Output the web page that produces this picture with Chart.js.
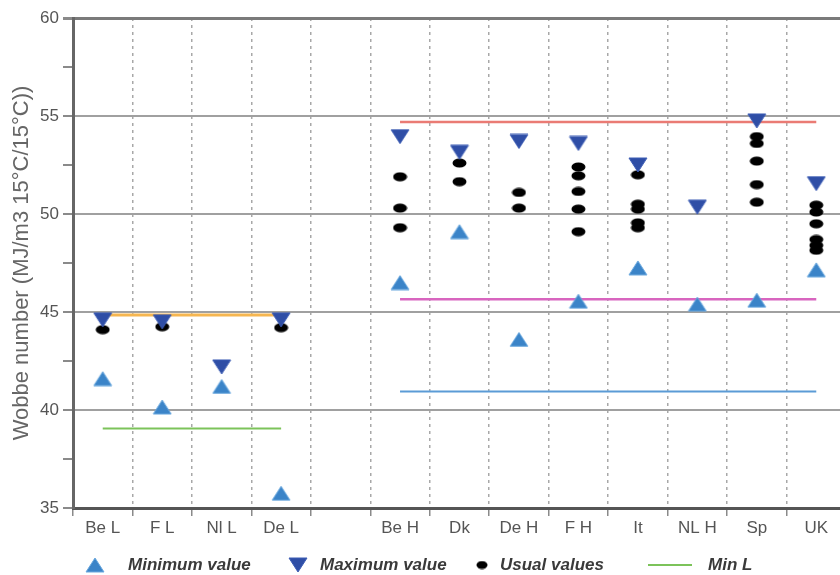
<!DOCTYPE html>
<html>
<head>
<meta charset="utf-8">
<script src="https://cdn.jsdelivr.net/npm/chart.js@4.4.0/dist/chart.umd.min.js"></script>
<style>
  html, body { margin: 0; padding: 0; overflow: hidden; background: #ffffff; }
  #frame { position: relative; width: 840px; height: 575px; overflow: hidden; }
  canvas { display: block; }
</style>
</head>
<body>
<div id="frame"><canvas id="wobbe" width="857" height="575" style="width:857px;height:575px"></canvas></div>
<script>
// Gas zones: L-gas countries, a spacer column, then H-gas countries
const categories = ['Be L', 'F L', 'Nl L', 'De L', '', 'Be H', 'Dk', 'De H', 'F H', 'It', 'NL H', 'Sp', 'UK'];

// Wobbe number extremes per zone (MJ/m3, 15°C/15°C)
const minValues = [41.6, 40.15, 41.2, 35.75, null, 46.5, 49.1, 43.6, 45.55, 47.25, 45.4, 45.6, 47.15];
const maxValues = [44.6, 44.5, 42.2, 44.6, null, 53.95, 53.15, 53.7, 53.6, 52.5, 50.35, 54.75, 51.55];

// Usual values observed in each zone
const usualValues = [
  [44.1],
  [44.25],
  [],
  [44.2],
  [],
  [51.9, 50.3, 49.3],
  [52.6, 51.65],
  [51.1, 50.3],
  [52.4, 51.95, 51.15, 50.25, 49.1],
  [52.0, 50.5, 50.25, 49.55, 49.3],
  [],
  [53.95, 53.6, 52.7, 51.5, 50.6],
  [50.45, 50.1, 49.5, 48.7, 48.4, 48.15]
];

// Range limits drawn as horizontal bands across each group
const lGroupSpan = ['Be L', 'De L'];
const hGroupSpan = ['Be H', 'UK'];
const maxL = 44.85;
const minL = 39.05;
const maxH = 54.7;
const minH = 45.65;
const minHLow = 40.95;

const yMin = 35, yMax = 60, yStep = 2.5, yLabelStep = 5;

const FONT = '"Liberation Sans", Arial, sans-serif';

const COLORS = {
  min: '#3b84c8', minEdge: '#6aa8de',
  max: '#2f4ea6', maxEdge: '#3c5cb4',
  usual: '#000000',
  minL: '#7cc35a',
  maxL: '#f6b650',
  maxH: '#ea7b74',
  minH: '#d865bf',
  minHLow: '#5b9bd6'
};

// Marker images, each centred on its own bounding box
function makeEllipse(w, h) {
  const c = document.createElement('canvas');
  c.width = w; c.height = h;
  const g = c.getContext('2d');
  g.fillStyle = COLORS.usual;
  g.beginPath();
  g.ellipse(w / 2, h / 2, w / 2 - 0.5, h / 2 - 0.5, 0, 0, Math.PI * 2);
  g.fill();
  return c;
}
function makeTriangle(w, h, down, fill, edge) {
  const c = document.createElement('canvas');
  c.width = w; c.height = h;
  const g = c.getContext('2d');
  g.beginPath();
  if (down) {
    g.moveTo(1, 1); g.lineTo(w - 1, 1); g.lineTo(w / 2, h - 1);
  } else {
    g.moveTo(w / 2, 1); g.lineTo(w - 1, h - 1); g.lineTo(1, h - 1);
  }
  g.closePath();
  g.fillStyle = fill;
  g.fill();
  g.lineWidth = 1;
  g.strokeStyle = edge;
  g.stroke();
  return c;
}
const ellipseMarker = makeEllipse(15, 10);
const upMarker = makeTriangle(20, 16, false, COLORS.min, COLORS.minEdge);
const downMarker = makeTriangle(20, 16, true, COLORS.max, COLORS.maxEdge);

const span = (cats, v) => cats.map(c => ({ x: c, y: v }));
const usualPoints = usualValues.flatMap((vals, i) => vals.map(v => ({ x: categories[i], y: v })));

// Key drawn beneath the x axis
const bottomKey = {
  id: 'bottomKey',
  afterDraw(chart) {
    const ctx = chart.ctx;
    const y = 565;
    const ds = chart.data.datasets;
    ctx.save();
    ctx.font = 'italic bold 17px ' + FONT;
    ctx.textBaseline = 'middle';
    ctx.textAlign = 'left';
    ctx.fillStyle = '#3a3a3a';

    ctx.drawImage(upMarker, 85, y - 8);
    ctx.fillText(ds[0].label, 128, y);

    ctx.drawImage(downMarker, 288, y - 8);
    ctx.fillText(ds[1].label, 320, y);

    ctx.drawImage(makeEllipse(12, 9), 476, y - 4.5);
    ctx.fillText(ds[2].label, 500, y);

    ctx.strokeStyle = COLORS.minL;
    ctx.lineWidth = 2;
    ctx.beginPath();
    ctx.moveTo(648, y);
    ctx.lineTo(692, y);
    ctx.stroke();
    ctx.fillText(ds[3].label, 708, y);
    ctx.restore();
  }
};

new Chart(document.getElementById('wobbe'), {
  type: 'line',
  data: {
    labels: categories,
    datasets: [
      {
        label: 'Minimum value',
        data: minValues,
        showLine: false,
        pointStyle: upMarker,
        pointRadius: 10,
        order: 0
      },
      {
        label: 'Maximum value',
        data: maxValues,
        showLine: false,
        pointStyle: downMarker,
        pointRadius: 10,
        order: 1
      },
      {
        label: 'Usual values',
        data: usualPoints,
        showLine: false,
        pointStyle: ellipseMarker,
        pointRadius: 6,
        order: 2
      },
      {
        label: 'Min L',
        data: span(lGroupSpan, minL),
        borderColor: COLORS.minL,
        borderWidth: 2,
        pointRadius: 0,
        order: 3
      },
      {
        label: 'Max L',
        data: span(lGroupSpan, maxL),
        borderColor: COLORS.maxL,
        borderWidth: 3,
        pointRadius: 0,
        order: 4
      },
      {
        label: 'Max H',
        data: span(hGroupSpan, maxH),
        borderColor: COLORS.maxH,
        borderWidth: 2.5,
        pointRadius: 0,
        order: 5
      },
      {
        label: 'Min H',
        data: span(hGroupSpan, minH),
        borderColor: COLORS.minH,
        borderWidth: 2.5,
        pointRadius: 0,
        order: 6
      },
      {
        label: 'Min H (low)',
        data: span(hGroupSpan, minHLow),
        borderColor: COLORS.minHLow,
        borderWidth: 2,
        pointRadius: 0,
        order: 7
      }
    ]
  },
  options: {
    responsive: false,
    animation: false,
    devicePixelRatio: 1,
    layout: { padding: { left: 0, right: 4, top: 18, bottom: 31 } },
    plugins: {
      legend: { display: false },
      tooltip: { enabled: false }
    },
    scales: {
      x: {
        type: 'category',
        offset: true,
        afterFit(scale) {
          scale.height = 36;
          scale.paddingLeft = 0;
          scale.paddingRight = 0;
        },
        grid: {
          offset: true,
          color: '#a8a8a8',
          lineWidth: 1.5,
          tickBorderDash: [],
          tickColor: '#8a8a8a',
          tickLength: 8
        },
        border: { color: '#555555', width: 3, dash: [3, 4] },
        ticks: {
          color: '#555555',
          font: { family: FONT, size: 17 },
          padding: 2,
          autoSkip: false,
          maxRotation: 0
        }
      },
      y: {
        min: yMin,
        max: yMax,
        afterFit(scale) { scale.width = 73; },
        afterBuildTicks(scale) {
          const t = [];
          for (let v = yMin; v <= yMax + 1e-9; v += yStep) t.push({ value: v });
          scale.ticks = t;
        },
        grid: {
          color(ctx) {
            const v = ctx.tick && ctx.tick.value;
            if (v === yMax) return '#7a7a7a';
            if (v === yMin) return 'rgba(0,0,0,0)';
            return (v % yLabelStep === 0) ? '#a0a0a0' : 'rgba(0,0,0,0)';
          },
          lineWidth(ctx) {
            const v = ctx.tick && ctx.tick.value;
            return v === yMax ? 3 : 2;
          },
          tickColor: '#8a8a8a',
          tickLength: 10
        },
        border: { color: '#666666', width: 3 },
        ticks: {
          color: '#555555',
          font: { family: FONT, size: 17 },
          padding: 4,
          callback(v) { return (v % yLabelStep === 0) ? v : ''; }
        },
        title: {
          display: true,
          text: 'Wobbe number (MJ/m3 15°C/15°C))',
          color: '#666666',
          font: { family: FONT, size: 22 },
          padding: { top: 9, bottom: 0 }
        }
      }
    }
  },
  plugins: [bottomKey]
});
</script>
</body>
</html>
